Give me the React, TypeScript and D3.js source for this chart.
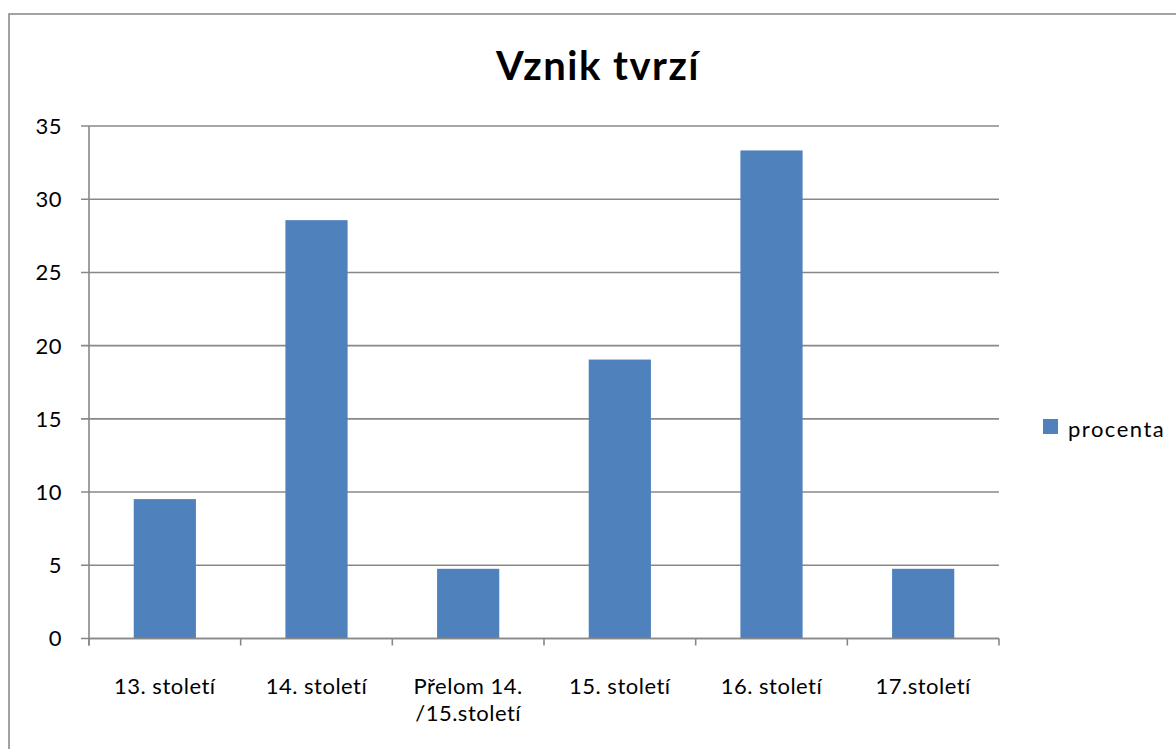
import React from "react";
import * as d3 from "d3";

const categories: string[][] = [
  ["13. století"],
  ["14. století"],
  ["Přelom 14.", "/15.století"],
  ["15. století"],
  ["16. století"],
  ["17.století"],
];
const values: number[] = [9.52, 28.57, 4.76, 19.05, 33.33, 4.76];
const yTicks: number[] = [0, 5, 10, 15, 20, 25, 30, 35];
const seriesName = "procenta";
const title = "Vznik tvrzí";

const W = 1176;
const H = 749;
const FONT = "Lato, 'Open Sans', sans-serif";
const GRID = "#888888";
const BAR = "#4F81BD";

export default function App() {
  const left = 89;
  const right = 999;
  const top = 126;
  const bottom = 638.5;
  const x = d3
    .scaleBand<number>()
    .domain(values.map((_, i) => i))
    .range([left, right])
    .paddingInner(0)
    .paddingOuter(0);
  const y = d3.scaleLinear().domain([0, 35]).range([bottom, top]);
  const bw = x.bandwidth() * 0.41;
  const boundaries = d3.range(values.length + 1).map((i) => left + i * x.step());

  return (
    <div style={{ position: "absolute", left: 0, top: 0, width: W, height: H }}>
      <svg width={W} height={H} style={{ display: "block" }}>
        <rect x={0} y={0} width={W} height={H} fill="#fff" />
        <rect x={9} y={14} width={W} height={H} fill="none" stroke="#8c8c8c" strokeWidth={1.6} />
        <text x={598} y={80} textAnchor="middle" fontFamily={FONT} fontWeight={700} fontSize={40} letterSpacing={1.5} fill="#000">
          {title}
        </text>
        {yTicks.map((t) => (
          <g key={t}>
            <line x1={left - 8} x2={right} y1={y(t)} y2={y(t)} stroke={GRID} strokeWidth={1.6} />
            <text x={62} y={y(t)} dy="0.36em" textAnchor="end" fontFamily={FONT} fontSize={22} letterSpacing={0.5} fill="#000">
              {t}
            </text>
          </g>
        ))}
        {values.map((v, i) => (
          <rect
            key={i}
            x={(x(i) as number) + (x.bandwidth() - bw) / 2}
            y={y(v)}
            width={bw}
            height={y(0) - y(v)}
            fill={BAR}
          />
        ))}
        <line x1={left} x2={left} y1={top} y2={bottom + 7} stroke={GRID} strokeWidth={1.6} />
        <line x1={left} x2={right} y1={bottom} y2={bottom} stroke={GRID} strokeWidth={1.6} />
        {boundaries.map((b, i) => (
          <line key={i} x1={b} x2={b} y1={bottom} y2={bottom + 7} stroke={GRID} strokeWidth={1.6} />
        ))}
        {categories.map((lines, i) => (
          <text
            key={i}
            x={(x(i) as number) + x.bandwidth() / 2}
            y={694}
            textAnchor="middle"
            fontFamily={FONT}
            fontSize={22}
            letterSpacing={0.5}
            fill="#000"
          >
            {lines.map((l, j) => (
              <tspan key={j} x={(x(i) as number) + x.bandwidth() / 2} dy={j === 0 ? 0 : 27}>
                {l}
              </tspan>
            ))}
          </text>
        ))}
        <rect x={1043} y={419} width={15} height={15} fill={BAR} />
        <text x={1068} y={437} fontFamily={FONT} fontSize={22} letterSpacing={1.5} fill="#000">
          {seriesName}
        </text>
      </svg>
    </div>
  );
}
